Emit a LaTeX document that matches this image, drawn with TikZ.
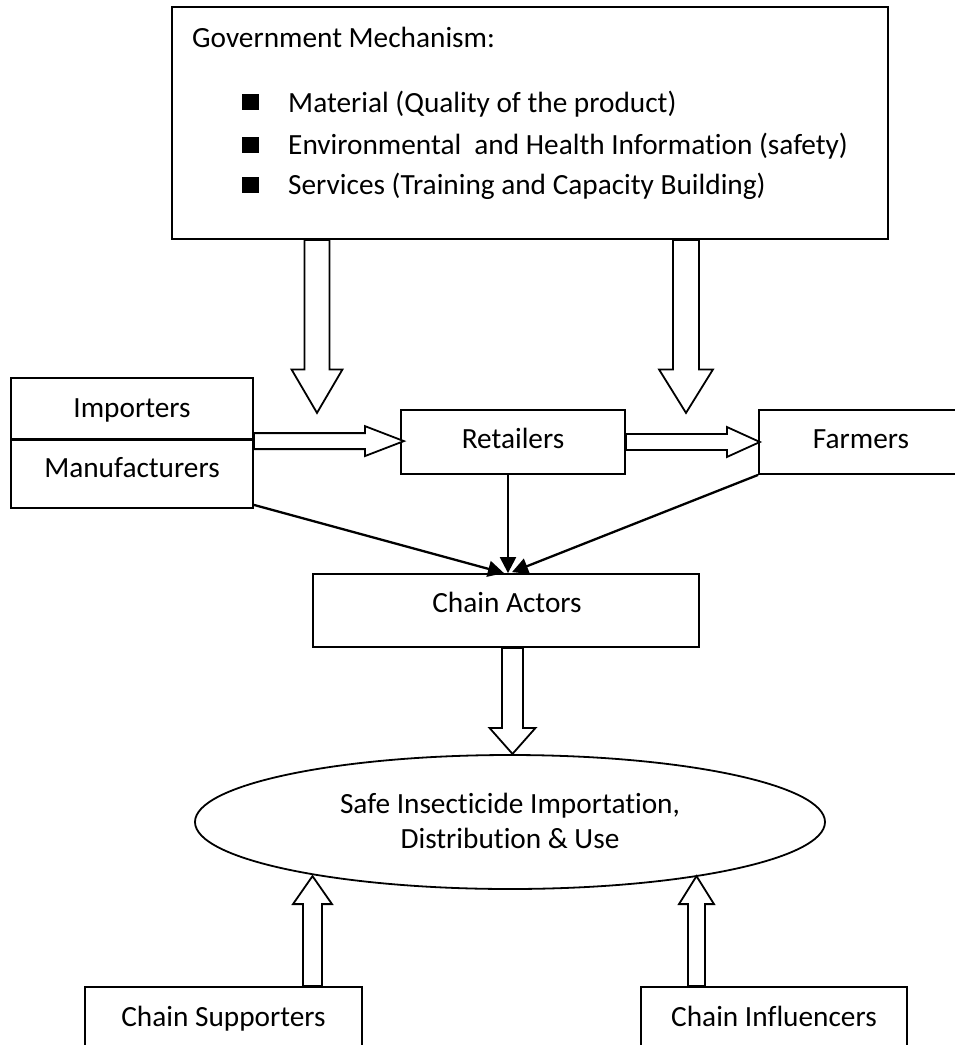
\documentclass[tikz,border=0pt]{standalone}
\usepackage{fontspec}
\setmainfont{Carlito}[Ligatures=NoCommon]
\usetikzlibrary{calc,arrows.meta,shapes.geometric}
\begin{document}
\begin{tikzpicture}[x=1pt,y=-1pt,
  font=\fontsize{29.3}{35}\selectfont,
  box/.style={draw, line width=1.8pt, inner sep=0pt},
  lbl/.style={anchor=base, inner sep=0pt},
  sqbullet/.style={fill=black, inner sep=0pt, minimum width=17pt, minimum height=16pt},
  blk/.style={draw, line width=1.8pt, fill=white, line join=miter},
  conn/.style={line width=2.3pt, -{Triangle[length=16pt,width=16pt]}}]
\useasboundingbox (0,0) rectangle (954,1045);
\fill[white] (0,0) rectangle (954,1045);

% Government mechanism box
\node[box, minimum width=716pt, minimum height=232pt] (gov) at (530,123) {};
\node[lbl, anchor=base west] (govT) at (192,47) {Government Mechanism:};
\node[sqbullet] (sq1) at (250.5,102) {};
\node[sqbullet] (sq2) at (250.5,145) {};
\node[sqbullet] (sq3) at (250.5,185) {};
\node[lbl, anchor=base west] (it1) at (288,112) {Material (Quality of the product)};
\node[lbl, anchor=base west] (it2) at (288,154) {Environmental\ \ and Health Information (safety)};
\node[lbl, anchor=base west] (it3) at (288,194) {Services (Training and Capacity Building)};

% Importers / Manufacturers
\node[box, minimum width=242pt, minimum height=61pt] (imp) at (132,408.5) {};
\node[box, minimum width=242pt, minimum height=69pt] (man) at (132,473.5) {};
\draw[line width=3pt] (imp.south west) -- (imp.south east);
\node[lbl] (impT) at (132,417) {Importers};
\node[lbl] (manT) at (132,477) {Manufacturers};

% Retailers, Farmers
\node[box, minimum width=224pt, minimum height=64pt] (ret) at (513,442) {};
\node[lbl] (retT) at (513,448) {Retailers};
\node[box, minimum width=204pt, minimum height=64pt] (farm) at (861,442) {};
\node[lbl] (farmT) at (861,448) {Farmers};

% Chain actors
\node[box, minimum width=386pt, minimum height=73pt] (act) at (506,610.5) {};
\node[lbl] (actT) at (507,612) {Chain Actors};

% Ellipse
\node[draw, ellipse, line width=1.8pt, inner sep=0pt, minimum width=630pt, minimum height=134pt] (safe) at (510,822) {};
\node[lbl] (safeT1) at (510,813) {Safe Insecticide Importation,};
\node[lbl] (safeT2) at (510,848) {Distribution \& Use};

% Bottom boxes
\node[box, minimum width=277pt, minimum height=80pt] (sup) at (223.5,1027) {};
\node[lbl] (supT) at (223.5,1026) {Chain Supporters};
\node[box, minimum width=266pt, minimum height=80pt] (inf) at (774,1027) {};
\node[lbl] (infT) at (774,1026) {Chain Influencers};

% Block arrows from government box
\coordinate (gL) at (317,0 |- gov.south);
\coordinate (gR) at (686,0 |- gov.south);
\draw[blk] (gL) ++(-12.5,0) -- ++(0,129.5) -- ++(-13,0) -- ++(25.5,43.5) -- ++(25.5,-43.5) -- ++(-13,0) -- ++(0,-129.5) -- cycle;
\draw[blk] (gR) ++(-13,0) -- ++(0,129.5) -- ++(-14,0) -- ++(27,43.5) -- ++(27,-43.5) -- ++(-14,0) -- ++(0,-129.5) -- cycle;

% Horizontal block arrows
\draw[blk] (man.north east) ++(0,-5) -- ++(111,0) -- ++(0,-7) -- ++(39,15) -- ++(-39,15) -- ++(0,-7) -- ++(-111,0) -- cycle;
\draw[blk] (ret.east) ++(0,-8) -- ++(101,0) -- ++(0,-7) -- ++(33,15) -- ++(-33,15) -- ++(0,-7) -- ++(-101,0) -- cycle;

% Connectors to chain actors
\coordinate (meet) at ($(act.north)+(2,0)$);
\draw[conn] (508,0 |- ret.south) -- (meet);
\draw[conn] ($(man.south east)+(0,-4)$) -- ($(meet)+(-4,0)$);
\draw[conn] (farm.south west) -- ($(meet)+(4,-1)$);

% Chain actors down to ellipse
\coordinate (aD) at (512.5,0 |- act.south);
\draw[blk] (aD) ++(-10.5,0) -- ++(0,80) -- ++(-12.5,0) -- ++(23,26) -- ++(23,-26) -- ++(-12.5,0) -- ++(0,-80) -- cycle;

% Up arrows from bottom boxes
\coordinate (sU) at (312.5,0 |- sup.north);
\coordinate (iU) at (696.5,0 |- inf.north);
\draw[blk] (sU) ++(-9.5,0) -- ++(0,-82) -- ++(-10,0) -- ++(19.5,-28) -- ++(19.5,28) -- ++(-10,0) -- ++(0,82) -- cycle;
\draw[blk] (iU) ++(-8.5,0) -- ++(0,-82) -- ++(-9,0) -- ++(17.5,-28) -- ++(17.5,28) -- ++(-9,0) -- ++(0,82) -- cycle;
\end{tikzpicture}
\end{document}
